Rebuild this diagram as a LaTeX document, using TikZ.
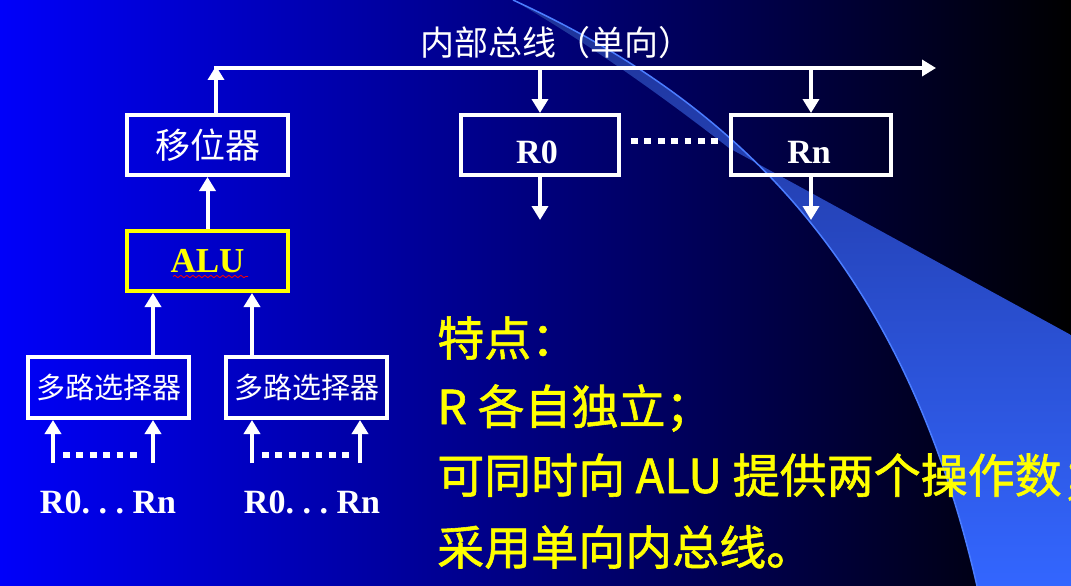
\documentclass[tikz,border=0pt]{standalone}
\usepackage{fontspec}
\setmainfont{Liberation Serif}
\newfontfamily\cjk{Noto Sans CJK SC}
\newfontfamily\cjkheavy{Noto Sans CJK SC}[FakeBold=1.2]
\usetikzlibrary{arrows.meta,decorations.pathmorphing}

\definecolor{bgblue}{RGB}{0,0,250}
\definecolor{swtop}{RGB}{30,50,150}
\definecolor{swmid}{RGB}{45,85,210}
\definecolor{swbot}{RGB}{51,102,255}
\definecolor{swedge}{RGB}{75,125,255}
\definecolor{hl}{RGB}{255,255,0}

\begin{document}
\begin{tikzpicture}[x=1pt,y=-1pt,
  arr/.style={draw=white, line width=4pt, -{Triangle[length=14pt,width=16pt]}},
  box/.style={rectangle, draw=white, line width=4pt, inner sep=0pt,
              minimum width=161pt, minimum height=60pt, text=white},
  dotrow/.style={draw=white, line width=6.7pt, dash pattern=on 6.7pt off 6.7pt},
  cjkbig/.style={font=\cjk\fontsize{35}{40}\selectfont},
  cjkmux/.style={font=\cjk\fontsize{29}{34}\selectfont},
  reglab/.style={text=white, inner sep=0pt, font=\bfseries\fontsize{34}{40}\selectfont},
  note/.style={anchor=west, inner sep=0pt, text=hl, font=\cjkheavy\fontsize{47}{56}\selectfont}
]
\useasboundingbox (0,0) rectangle (1071,586);
\begin{scope}
\clip (0,0) rectangle (1071,586);

% backdrop: blue fading to black, with the light swoosh on the right
\shade[left color=bgblue, right color=black] (0,0) rectangle (1071,586);
\shade[top color=swtop, middle color=swmid, bottom color=swbot]
  (513,0) .. controls (720,95) and (900,250) .. (977,586)
  -- (1071,586) -- (1071,335) -- (729,148)
  .. controls (680,110) and (600,50) .. (513,0) -- cycle;
\draw[swedge, line width=1.5pt] (513,0) .. controls (720,95) and (900,250) .. (977,586);

% blocks
\node[box, cjkbig] (shift) at (207.5,145) {移位器};
\node[box, draw=hl, text=hl, font=\bfseries\fontsize{35}{40}\selectfont] (alu) at (207.5,261) {ALU};
\draw[red, line width=0.8pt, decorate, decoration={snake, amplitude=1.2pt, segment length=6pt}]
  (173,276.5) -- (248,276.5);
\node[box, cjkmux, minimum height=61pt] (m1) at (108.5,387.5) {多路选择器};
\node[box, cjkmux, minimum height=61pt] (m2) at (306.5,387.5) {多路选择器};
\node[box, minimum width=158pt] (r0) at (540,145) {};
\node[box, minimum width=160pt] (rn) at (811,145) {};
\node[reglab] (r0t) at ([xshift=-3,yshift=-7]r0.center) {R0};
\node[reglab] (rnt) at ([xshift=-2,yshift=-7]rn.center) {Rn};

% internal bus
\node[anchor=west, inner sep=0pt, text=white, font=\cjk\fontsize{34}{40}\selectfont]
  (title) at (420,43) {内部总线（单向）};
\coordinate (busL) at (216,68);
\coordinate (busR) at (936,68);
\draw[arr] ([xshift=-2]busL) -- (busR);
\draw[arr] (shift.north -| busL) -- ([yshift=2]busL);
\draw[arr] (r0.north |- busL) -- (r0.north);
\draw[arr] (rn.north |- busL) -- (rn.north);
\coordinate (r0out) at (540,220);
\coordinate (rnout) at (811,220);
\draw[arr] (r0.south) -- (r0out);
\draw[arr] (rn.south) -- (rnout);
\draw[dotrow, shorten <=10pt, shorten >=11pt] ([yshift=4]r0.east) -- ([yshift=4]rn.west);

% datapath into the shifter
\draw[arr] (alu.north) -- (shift.south);
\draw[arr] ([xshift=44.5]m1.north) -- ([xshift=-54.5]alu.south);
\draw[arr] ([xshift=-54.5]m2.north) -- ([xshift=44.5]alu.south);

% register inputs of the multiplexers
\coordinate (i1a) at (53,463);
\coordinate (i1b) at (153,463);
\coordinate (i2a) at (252,463);
\coordinate (i2b) at (360,463);
\draw[arr] (i1a) -- (i1a |- m1.south);
\draw[arr] (i1b) -- (i1b |- m1.south);
\draw[arr] (i2a) -- (i2a |- m2.south);
\draw[arr] (i2b) -- (i2b |- m2.south);
\draw[dotrow] (63,455) -- (137,455);
\draw[dotrow] (262,455) -- (349,455);
\node[reglab] (l1) at (108,502) {R0.\ .\ .\ Rn};
\node[reglab] (l2) at (312,502) {R0.\ .\ .\ Rn};

% notes
\node[note] (n1) at (437,338) {特点：};
\node[note] (n2) at (437,408) {R 各自独立；};
\node[note] (n3) at (437,477) {可同时向 ALU 提供两个操作数；};
\node[note] (n4) at (437,547) {采用单向内总线。};
\end{scope}
\end{tikzpicture}
\end{document}
